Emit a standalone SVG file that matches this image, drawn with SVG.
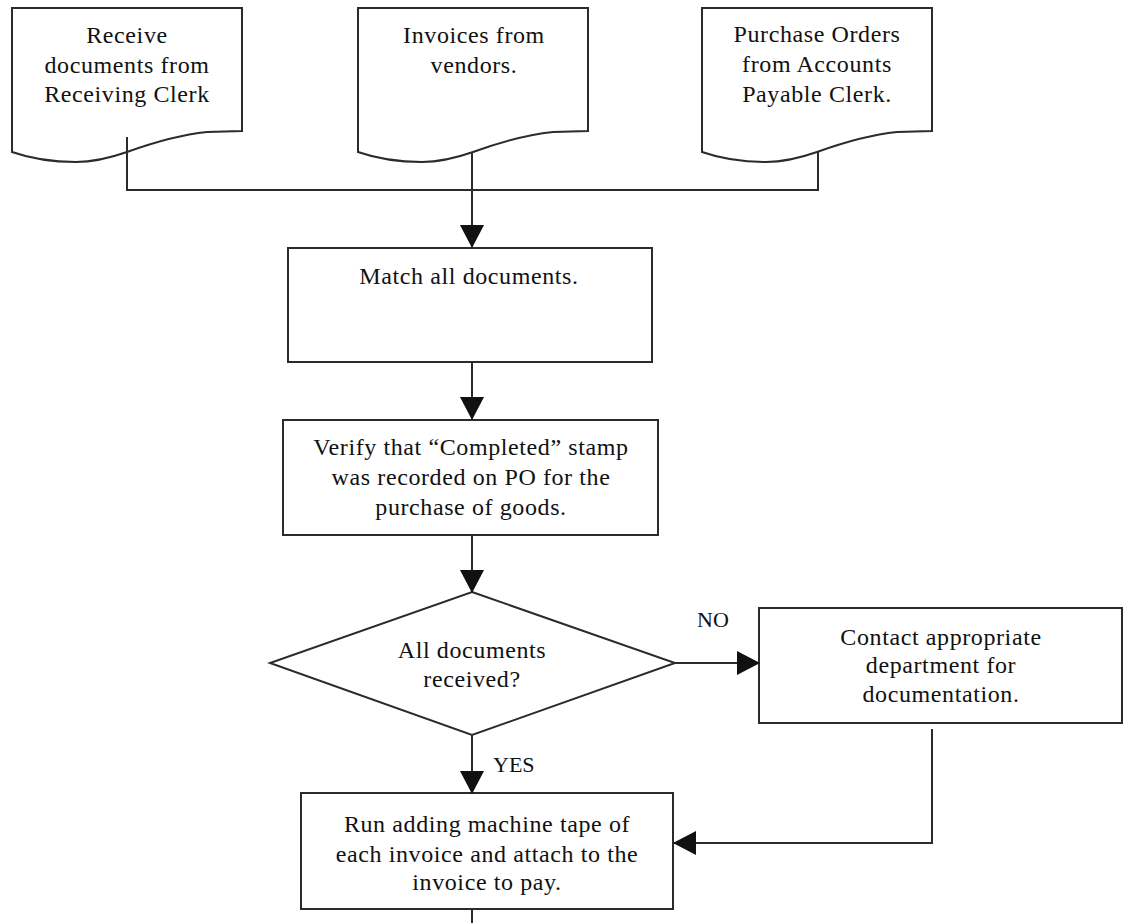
<svg xmlns="http://www.w3.org/2000/svg" width="1123" height="923" viewBox="0 0 1123 923">
  <style>
    .shape { fill: #ffffff; stroke: #2b2b2b; stroke-width: 2; }
    .wire { fill: none; stroke: #2b2b2b; stroke-width: 2; }
    .label { font-family: "Liberation Serif", "Times New Roman", serif; font-size: 24px; letter-spacing: 0.6px; fill: #111111; text-anchor: middle; }
    .tag { font-family: "Liberation Serif", "Times New Roman", serif; font-size: 22px; fill: #111111; }
  </style>
  <defs>
    <!-- document symbol: 230 wide, wavy bottom edge -->
    <path id="docShape" d="M0,0 H230 V123 L195,124 C165,127 140,135 115,144 C95,151 80,154 64,154 C40,154 20,151 0,144 Z"/>
    <marker id="arrow" markerUnits="userSpaceOnUse" markerWidth="24" markerHeight="26" refX="22" refY="12" orient="auto">
      <path d="M0,0 L23,12 L0,24 Z" fill="#111111"/>
    </marker>
  </defs>

  <rect width="1123" height="923" fill="#ffffff"/>

  <!-- input documents -->
  <g id="doc-receiving">
    <use href="#docShape" class="shape" x="12" y="8"/>
    <text class="label" x="127" y="43">Receive</text>
    <text class="label" x="127" y="73">documents from</text>
    <text class="label" x="127" y="102">Receiving Clerk</text>
  </g>
  <g id="doc-invoices">
    <use href="#docShape" class="shape" x="358" y="8"/>
    <text class="label" x="474" y="43">Invoices from</text>
    <text class="label" x="474" y="73">vendors.</text>
  </g>
  <g id="doc-purchase-orders">
    <use href="#docShape" class="shape" x="702" y="8"/>
    <text class="label" x="817" y="42">Purchase Orders</text>
    <text class="label" x="817" y="72">from Accounts</text>
    <text class="label" x="817" y="102">Payable Clerk.</text>
  </g>

  <!-- process steps -->
  <g id="match">
    <rect class="shape" x="288" y="248" width="364" height="114"/>
    <text class="label" x="469" y="284">Match all documents.</text>
  </g>
  <g id="verify">
    <rect class="shape" x="283" y="420" width="375" height="115"/>
    <text class="label" x="471" y="455">Verify that “Completed” stamp</text>
    <text class="label" x="471" y="485">was recorded on PO for the</text>
    <text class="label" x="471" y="515">purchase of goods.</text>
  </g>
  <g id="decision">
    <polygon class="shape" points="472,592 675,663 472,735 270,663"/>
    <text class="label" x="472" y="658">All documents</text>
    <text class="label" x="472" y="687">received?</text>
  </g>
  <g id="contact">
    <rect class="shape" x="759" y="608" width="363" height="115"/>
    <text class="label" x="941" y="645">Contact appropriate</text>
    <text class="label" x="941" y="673">department for</text>
    <text class="label" x="941" y="702">documentation.</text>
  </g>
  <g id="run-tape">
    <rect class="shape" x="301" y="793" width="372" height="116"/>
    <text class="label" x="487" y="832">Run adding machine tape of</text>
    <text class="label" x="487" y="862">each invoice and attach to the</text>
    <text class="label" x="487" y="890">invoice to pay.</text>
  </g>

  <!-- connectors -->
  <g id="connectors">
    <path class="wire" d="M127,137 V190 H818 V152"/>
    <path class="wire" d="M472,152 V247" marker-end="url(#arrow)"/>
    <path class="wire" d="M472,362 V419" marker-end="url(#arrow)"/>
    <path class="wire" d="M472,535 V592" marker-end="url(#arrow)"/>
    <path class="wire" d="M675,663 H759" marker-end="url(#arrow)"/>
    <path class="wire" d="M472,735 V793" marker-end="url(#arrow)"/>
    <path class="wire" d="M932,729 V843 H674" marker-end="url(#arrow)"/>
    <path class="wire" d="M472,909 V923"/>
    <text class="tag" x="697" y="627">NO</text>
    <text class="tag" x="493" y="772">YES</text>
  </g>
</svg>
